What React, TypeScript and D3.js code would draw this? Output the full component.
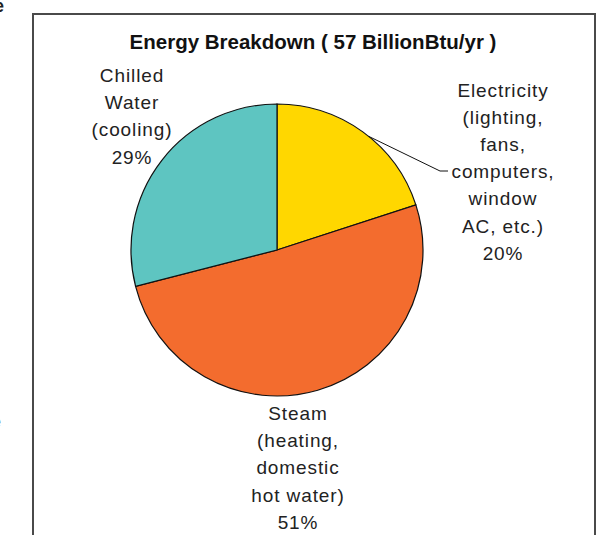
import React from "react";
import * as d3 from "d3";

const categories = ["Electricity", "Steam", "Chilled Water"];
const values = [20, 51, 29];
const colors = ["#FFD700", "#F36C2E", "#5EC5C1"];
const labelLines = [
  ["Electricity", "(lighting,", "fans,", "computers,", "window", "AC, etc.)", "20%"],
  ["Steam", "(heating,", "domestic", "hot water)", "51%"],
  ["Chilled", "Water", "(cooling)", "29%"],
];
const title = "Energy Breakdown ( 57 BillionBtu/yr )";

const W = 601;
const H = 535;
const cx = 277;
const cy = 250;
const R = 146;
const lineH = 27.2;
// label anchors: [centerX, first baseline]
const labelPos: [number, number][] = [
  [503, 96.5],
  [298, 420],
  [132, 82],
];

export default function App() {
  const pie = d3.pie<number>().sort(null).value((d) => d);
  const arcs = pie(values);
  const arc = d3.arc<d3.PieArcDatum<number>>().innerRadius(0).outerRadius(R);

  // leader line for Electricity
  const e = arcs[0];
  const mid = (e.startAngle + e.endAngle) / 2 + 0.05;
  const p0: [number, number] = [cx + R * Math.sin(mid), cy - R * Math.cos(mid)];
  const p1: [number, number] = [440, 171];
  const p2: [number, number] = [448, 171];

  return (
    <svg
      width={W}
      height={H}
      style={{ position: "fixed", left: 0, top: 0, background: "#fff" }}
      fontFamily="'Liberation Sans', Arial, sans-serif"
    >
      <rect x={0} y={0} width={W} height={H} fill="#fff" />
      {/* fragments of surrounding page text */}
      <text x={-6} y={12} fontSize={18} fontWeight="bold" fill="#222">e</text>
      <text x={-8} y={427} fontSize={16} fill="#333">e</text>
      {/* chart frame */}
      <rect x={33} y={14} width={562} height={560} fill="#fff" stroke="#4a4a4a" strokeWidth={2} />
      <text
        x={313}
        y={49}
        textAnchor="middle"
        fontSize={20.5}
        fontWeight="bold"
        fill="#111"
      >
        {title}
      </text>
      <g transform={`translate(${cx},${cy})`}>
        {arcs.map((a, i) => (
          <path key={categories[i]} d={arc(a) || ""} fill={colors[i]} stroke="#111" strokeWidth={1.2} />
        ))}
      </g>
      <polyline
        points={[p0, p1, p2].map((p) => p.join(",")).join(" ")}
        fill="none"
        stroke="#111"
        strokeWidth={1}
      />
      {labelLines.map((lines, i) => (
        <text
          key={categories[i]}
          textAnchor="middle"
          fontSize={19}
          letterSpacing={0.9}
          fill="#222"
        >
          {lines.map((l, j) => (
            <tspan key={j} x={labelPos[i][0]} y={labelPos[i][1] + j * lineH}>
              {l}
            </tspan>
          ))}
        </text>
      ))}
    </svg>
  );
}
